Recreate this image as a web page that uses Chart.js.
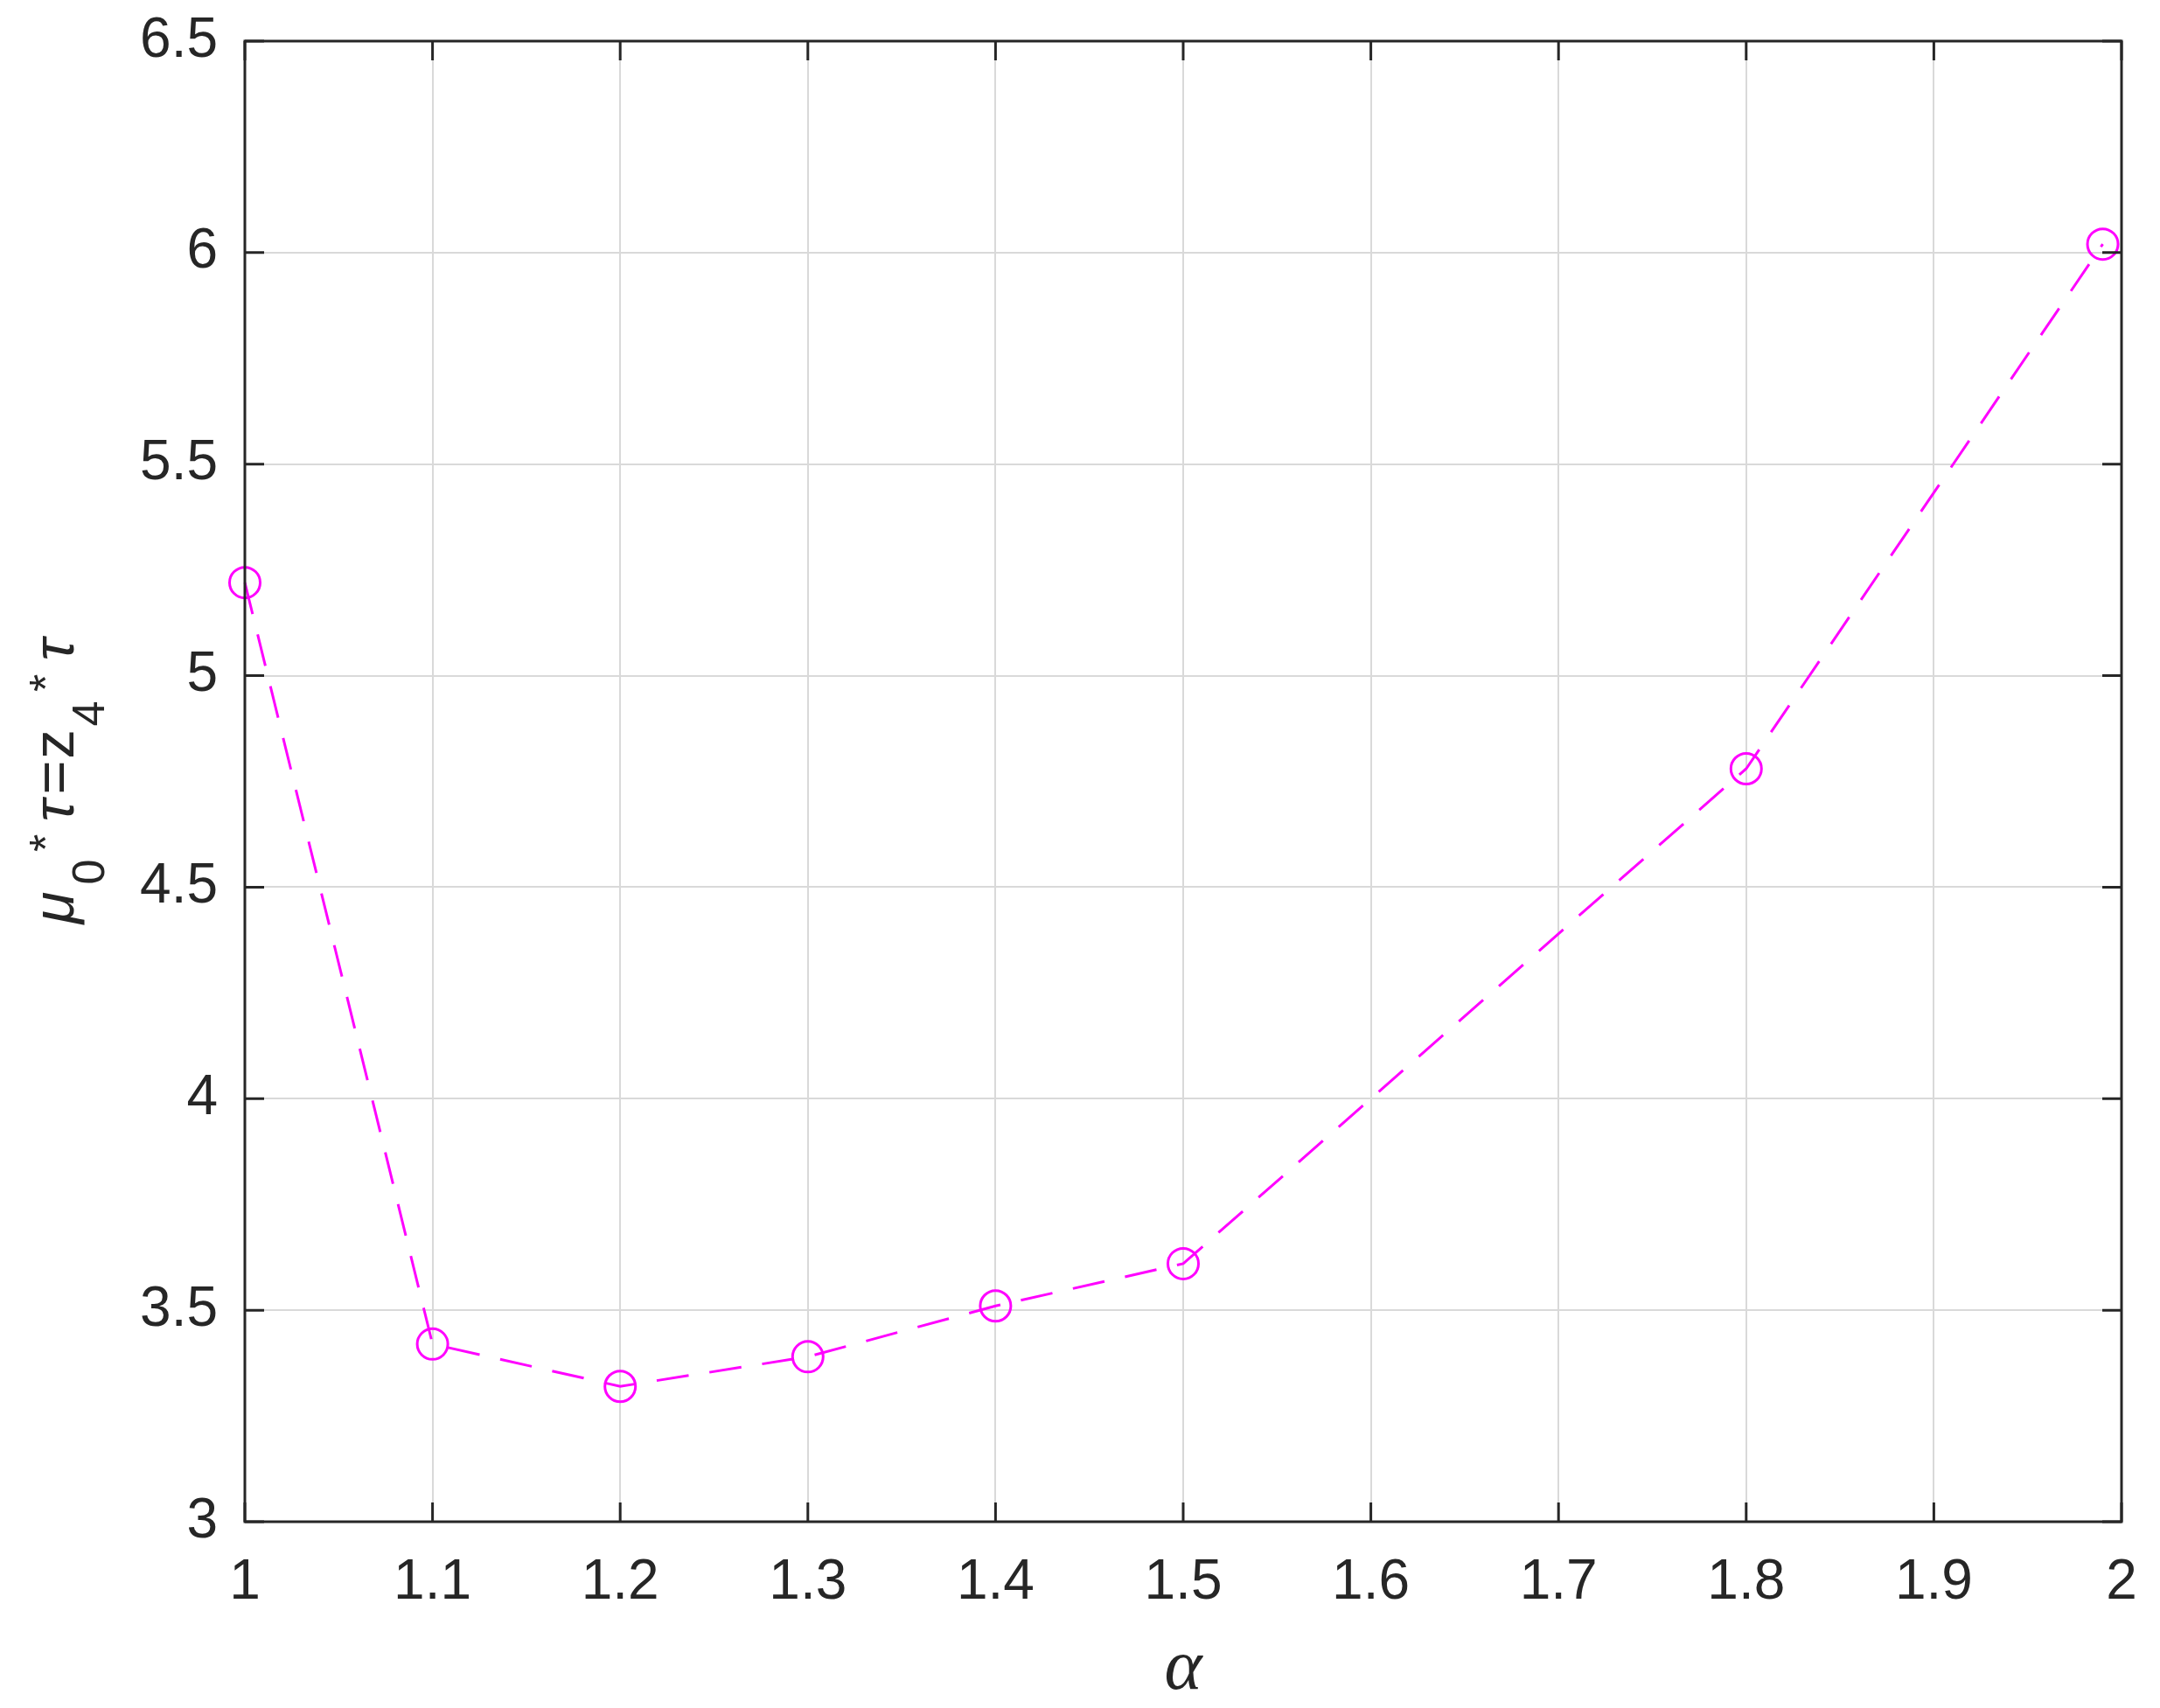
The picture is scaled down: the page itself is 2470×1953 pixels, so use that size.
<!DOCTYPE html>
<html>
<head>
<meta charset="utf-8">
<script src="https://cdn.jsdelivr.net/npm/chart.js@4.4.0/dist/chart.umd.min.js"></script>
<style>
html, body { margin: 0; padding: 0; background: #ffffff; }
#wrap { width: 2470px; height: 1953px; position: relative; }
</style>
</head>
<body>
<div id="wrap"><canvas id="c"></canvas></div>
<script>
// ---- data ----
const alphaValues = [1, 1.1, 1.2, 1.3, 1.4, 1.5, 1.8, 1.99];
const muTauValues = [5.22, 3.42, 3.32, 3.39, 3.51, 3.61, 4.78, 6.02];
const xTickValues = [1, 1.1, 1.2, 1.3, 1.4, 1.5, 1.6, 1.7, 1.8, 1.9, 2];
const xTickLabels = ['1', '1.1', '1.2', '1.3', '1.4', '1.5', '1.6', '1.7', '1.8', '1.9', '2'];
const yTickValues = [3, 3.5, 4, 4.5, 5, 5.5, 6, 6.5];
const yTickLabels = ['3', '3.5', '4', '4.5', '5', '5.5', '6', '6.5'];
const xAxisTitle = 'α';
const yAxisTitleParts = ['μ', '0', '*', 'τ', '=', 'z', '4', '*', 'τ'];
const yAxisTitleKinds = ['main', 'sub', 'sup', 'main', 'main', 'main', 'sub', 'sup', 'main'];

// ---- layout / style ----
const AXIS_COLOR = '#262626';
const FONT = "'Liberation Sans', Arial, Helvetica, sans-serif";
const TICK_FONT_SIZE = 64;
// centers of the y-title glyphs along the vertical (page px), bottom to top
const yTitleCenters = [1038, 997, 964, 927, 889, 851, 816, 781, 743];
const yTitleBaselineX = 84;

const framePlugin = {
  id: 'frame',
  afterDraw(chart) {
    const { ctx, chartArea: a, scales } = chart;
    const x = scales.x, y = scales.y;
    ctx.save();
    ctx.strokeStyle = AXIS_COLOR;
    ctx.lineWidth = 3;
    const tl = 22;
    ctx.beginPath();
    xTickValues.forEach(v => {
      const px = x.getPixelForValue(v);
      ctx.moveTo(px, a.bottom); ctx.lineTo(px, a.bottom - tl);
      ctx.moveTo(px, a.top); ctx.lineTo(px, a.top + tl);
    });
    yTickValues.forEach(v => {
      const py = y.getPixelForValue(v);
      ctx.moveTo(a.left, py); ctx.lineTo(a.left + tl, py);
      ctx.moveTo(a.right, py); ctx.lineTo(a.right - tl, py);
    });
    ctx.stroke();
    ctx.strokeRect(a.left, a.top, a.right - a.left, a.bottom - a.top);

    // x-axis title
    ctx.fillStyle = AXIS_COLOR;
    ctx.font = "italic 82px 'Liberation Serif', 'Times New Roman', serif";
    ctx.textAlign = 'center';
    ctx.textBaseline = 'alphabetic';
    ctx.fillText(xAxisTitle, (a.left + a.right) / 2, 1931);

    // y-axis title (rotated, with sub/superscripts)
    ctx.translate(yTitleBaselineX, 0);
    ctx.rotate(-Math.PI / 2);
    yAxisTitleParts.forEach((t, i) => {
      const kind = yAxisTitleKinds[i];
      const isGreek = /[μτ]/.test(t);
      let size = 67, dv = 0;
      if (kind === 'sub') { size = 52; dv = 35; }
      if (kind === 'sup') { size = 52; dv = -14; }
      ctx.font = (isGreek ? 'italic ' : '') + size + 'px ' + FONT;
      ctx.fillText(t, -yTitleCenters[i], dv);
    });
    ctx.restore();
  }
};

new Chart(document.getElementById('c'), {
  type: 'line',
  data: {
    datasets: [{
      data: alphaValues.map((a, i) => ({ x: a, y: muTauValues[i] })),
      borderColor: '#ff00ff',
      borderWidth: 3,
      borderDash: [37, 24],
      pointStyle: 'circle',
      pointRadius: 17.5,
      pointBorderWidth: 3,
      pointBorderColor: '#ff00ff',
      pointBackgroundColor: 'rgba(0,0,0,0)',
      fill: false,
      tension: 0,
      clip: false
    }]
  },
  options: {
    responsive: true,
    maintainAspectRatio: false,
    devicePixelRatio: 1,
    animation: false,
    layout: { padding: { top: 47, right: 44, left: 0, bottom: 0 } },
    plugins: { legend: { display: false }, tooltip: { enabled: false } },
    scales: {
      x: {
        type: 'linear',
        min: 1, max: 2,
        afterBuildTicks: s => { s.ticks = xTickValues.map(v => ({ value: v })); },
        afterFit: s => { s.height = 213; s.paddingLeft = 0; s.paddingRight = 0; },
        ticks: {
          callback: (v, i) => xTickLabels[i],
          color: AXIS_COLOR,
          font: { family: FONT, size: TICK_FONT_SIZE },
          padding: 32,
          maxRotation: 0,
          autoSkip: false
        },
        grid: { color: '#d9d9d9', lineWidth: 2, drawTicks: false },
        border: { display: false }
      },
      y: {
        type: 'linear',
        min: 3, max: 6.5,
        afterBuildTicks: s => { s.ticks = yTickValues.map(v => ({ value: v })); },
        afterFit: s => { s.width = 280; s.paddingTop = 0; s.paddingBottom = 0; },
        ticks: {
          callback: (v, i) => yTickLabels[i],
          color: AXIS_COLOR,
          font: { family: FONT, size: TICK_FONT_SIZE },
          padding: 31,
          autoSkip: false
        },
        grid: { color: '#d9d9d9', lineWidth: 2, drawTicks: false },
        border: { display: false }
      }
    }
  },
  plugins: [framePlugin]
});
</script>
</body>
</html>
